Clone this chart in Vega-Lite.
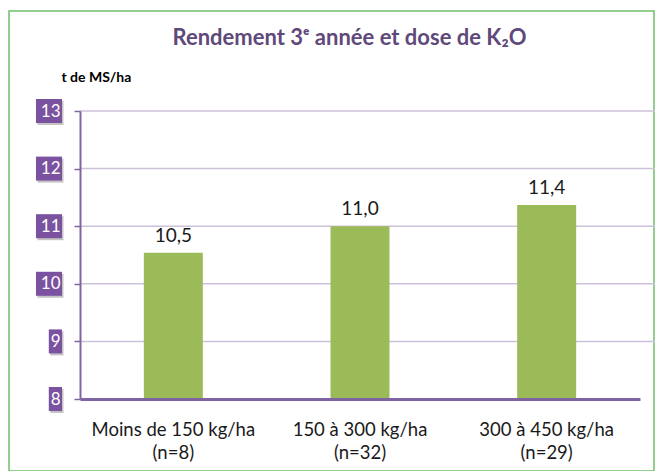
{
  "$schema": "https://vega.github.io/schema/vega-lite/v6.json",
  "width": 645,
  "height": 460,
  "padding": {"left": 9, "top": 11, "right": 0, "bottom": 0},
  "autosize": {"type": "pad"},
  "background": "white",
  "config": {
    "font": "Lato",
    "view": {"stroke": "#72BF6A", "strokeWidth": 1.5},
    "locale": {"number": {"decimal": ",", "thousands": " ", "grouping": [3], "currency": ["", " €"]}}
  },
  "title": {
    "text": "Rendement 3ᵉ année et dose de K₂O",
    "frame": "group",
    "anchor": "middle",
    "orient": "top",
    "offset": -56,
    "baseline": "alphabetic",
    "dx": 18,
    "fontSize": 22,
    "fontWeight": "bold",
    "color": "#5F497A",
    "font": "Lato"
  },
  "datasets": {
    "bars": [
      {"cat": "Moins de 150 kg/ha\n(n=8)", "v": 10.54},
      {"cat": "150 à 300 kg/ha\n(n=32)", "v": 11.0},
      {"cat": "300 à 450 kg/ha\n(n=29)", "v": 11.37}
    ],
    "ticks": [{"t": 8}, {"t": 9}, {"t": 10}, {"t": 11}, {"t": 12}, {"t": 13}]
  },
  "layer": [
    {
      "data": {"name": "ticks"},
      "transform": [{"filter": "datum.t > 8"}],
      "mark": {"type": "rule", "color": "#CCC1DA", "strokeWidth": 1.5, "x2Offset": 186.67},
      "encoding": {
        "y": {"field": "t", "type": "quantitative"},
        "x": {"datum": "Moins de 150 kg/ha\n(n=8)", "bandPosition": 0},
        "x2": {"datum": "300 à 450 kg/ha\n(n=29)"}
      }
    },
    {
      "data": {"name": "bars"},
      "mark": {"type": "bar", "color": "#9BBB59", "width": {"band": 0.316}},
      "encoding": {
        "x": {
          "field": "cat",
          "type": "nominal",
          "sort": null,
          "scale": {
            "domain": ["Moins de 150 kg/ha\n(n=8)", "150 à 300 kg/ha\n(n=32)", "300 à 450 kg/ha\n(n=29)"],
            "range": [71, 631],
            "paddingInner": 0,
            "paddingOuter": 0
          },
          "axis": {
            "title": null,
            "orient": "bottom",
            "offset": -72,
            "domainColor": "#8064A2",
            "domainWidth": 3,
            "ticks": false,
            "tickSize": 0,
            "labelAngle": 0,
            "labelAlign": "center",
            "labelFontSize": 18.5,
            "labelColor": "#1a1a1a",
            "labelFont": "Lato",
            "labelBaseline": "alphabetic",
            "labelPadding": 36,
            "labelLineHeight": 23,
            "labelExpr": "split(datum.label, '\\n')",
            "grid": false,
            "zindex": 1
          }
        },
        "y": {
          "field": "v",
          "type": "quantitative",
          "scale": {"domain": [8, 13], "range": [388, 100], "nice": false, "zero": false},
          "axis": {
            "title": "t de MS/ha",
            "titleAngle": 0,
            "titleAlign": "left",
            "titleAnchor": "start",
            "titleBaseline": "alphabetic",
            "titleX": -19,
            "titleY": 70,
            "titleFontSize": 14,
            "titleFontWeight": "bold",
            "titleColor": "#000000",
            "titleFont": "Lato",
            "offset": -71,
            "values": [8, 9, 10, 11, 12, 13],
            "format": "d",
            "domainColor": "#8064A2",
            "domainWidth": 2,
            "tickColor": "#8064A2",
            "tickSize": 6,
            "tickWidth": 1.5,
            "labelColor": "white",
            "labelFontSize": 17,
            "labelFont": "Lato",
            "labelPadding": 14,
            "labelBaseline": "middle",
            "grid": false,
            "zindex": 1
          }
        },
        "y2": {"datum": 8}
      }
    },
    {
      "data": {"name": "bars"},
      "mark": {"type": "text", "baseline": "alphabetic", "dy": -11, "fontSize": 19, "color": "#1a1a1a", "font": "Lato"},
      "encoding": {
        "x": {"field": "cat", "type": "nominal", "sort": null},
        "y": {"field": "v", "type": "quantitative"},
        "text": {"field": "v", "type": "quantitative", "format": ".1f"}
      }
    },
    {
      "data": {"name": "ticks"},
      "mark": {"type": "point", "filled": true, "opacity": 0.35, "xOffset": -16.5, "yOffset": 2, "size": 576, "color": "#555555"},
      "encoding": {
        "y": {"field": "t", "type": "quantitative"},
        "x": {"datum": "Moins de 150 kg/ha\n(n=8)", "bandPosition": 0},
        "shape": {
          "condition": {"test": "datum.t >= 10", "value": "M-2.17,-1H0V1H-2.17Z"},
          "value": "M-1.1,-1H0V1H-1.1Z"
        }
      }
    },
    {
      "data": {"name": "ticks"},
      "mark": {"type": "point", "filled": true, "opacity": 1, "xOffset": -18, "size": 576, "color": "#7B52A0"},
      "encoding": {
        "y": {"field": "t", "type": "quantitative"},
        "x": {"datum": "Moins de 150 kg/ha\n(n=8)", "bandPosition": 0},
        "shape": {
          "condition": {"test": "datum.t >= 10", "value": "M-2.17,-1H0V1H-2.17Z"},
          "value": "M-1.1,-1H0V1H-1.1Z"
        }
      }
    }
  ]
}
